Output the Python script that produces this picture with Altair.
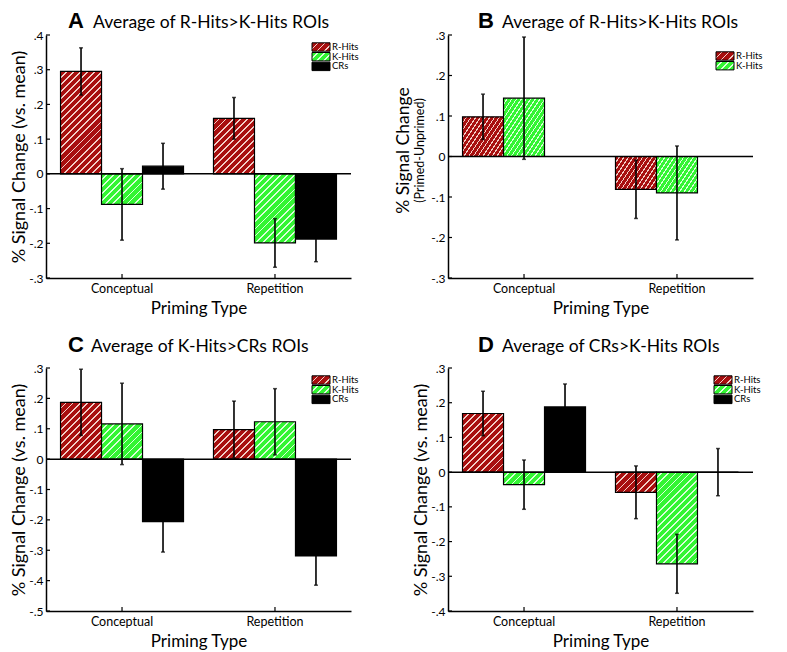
import math
import altair as alt

# ---------------- data ----------------
categories = ["Conceptual", "Repetition"]
series3 = ["R-Hits", "K-Hits", "CRs"]
series2 = ["R-Hits", "K-Hits"]

# Panel A: Average of R-Hits>K-Hits ROIs (vs. mean)
a_rhits = [0.295, 0.160]
a_rhits_err = [0.068, 0.060]
a_khits = [-0.088, -0.199]
a_khits_err = [0.103, 0.070]
a_crs = [0.022, -0.188]
a_crs_err = [0.066, 0.065]

# Panel B: Average of R-Hits>K-Hits ROIs (primed - unprimed)
b_rhits = [0.098, -0.081]
b_rhits_err = [0.056, 0.072]
b_khits = [0.144, -0.090]
b_khits_err = [0.151, 0.116]

# Panel C: Average of K-Hits>CRs ROIs
c_rhits = [0.187, 0.097]
c_rhits_err = [0.109, 0.094]
c_khits = [0.116, 0.123]
c_khits_err = [0.134, 0.109]
c_crs = [-0.206, -0.319]
c_crs_err = [0.100, 0.096]

# Panel D: Average of CRs>K-Hits ROIs
d_rhits = [0.169, -0.058]
d_rhits_err = [0.064, 0.076]
d_khits = [-0.036, -0.264]
d_khits_err = [0.071, 0.085]
d_crs = [0.188, 0.000]
d_crs_err = [0.066, 0.068]

ticks_a = [-0.3, -0.2, -0.1, 0.0, 0.1, 0.2, 0.3, 0.4]
ticks_b = [-0.3, -0.2, -0.1, 0.0, 0.1, 0.2, 0.3]
ticks_c = [-0.5, -0.4, -0.3, -0.2, -0.1, 0.0, 0.1, 0.2, 0.3]
ticks_d = [-0.4, -0.3, -0.2, -0.1, 0.0, 0.1, 0.2, 0.3]

# ---------------- style ----------------
W, H = 305, 243
PI, PO = 0.196, 0.095
FONT = "Lato"
RED, RED_STRIPE = "#a80f0f", "#f3cfc8"
GREEN, GREEN_STRIPE = "#33f533", "#dcffdc"
BLACK = "#000000"
BASE = {"R-Hits": (RED, RED_STRIPE), "K-Hits": (GREEN, GREEN_STRIPE), "CRs": (BLACK, None)}

STEP = W / (2 - PI + 2 * PO)
BAND = STEP * (1 - PI)


def hatch(name, w, h, period=5.0, white=1.3, m=32):
    base, stripe = BASE[name]
    if stripe is None:
        return base
    w = max(w, 1.0)
    h = max(h, 1.0)
    L = m * period
    k = math.sqrt(2) * L / (w * w + h * h)
    stops = []
    for i in range(m):
        a = i / m
        b = (i + (period - white) / period) / m
        c = (i + 1) / m
        stops += [
            {"offset": a, "color": base},
            {"offset": b, "color": base},
            {"offset": b, "color": stripe},
            {"offset": c, "color": stripe},
        ]
    return {"gradient": "linear", "x1": 0, "y1": 0, "x2": k * w, "y2": k * h, "stops": stops}


def label_expr():
    return ("datum.value == 0 ? '0' : replace(replace(format(datum.value, '.1f'), '0.', '.'), '\u2212', '-')")


def panel(letter, title, ser, vals, errs, dom, ticks, title_y, leg_x, leg_y, ytitle):
    span = dom[1] - dom[0]
    bw = BAND / len(ser)
    rows = []
    for s in ser:
        for j, c in enumerate(categories):
            m = vals[s][j]
            e = errs[s][j]
            rows.append({
                "cat": c, "series": s, "mean": m, "zero": 0,
                "lo": m - e, "hi": m + e,
                "fillg": hatch(s, bw, abs(m) * H / span),
            })
    xs = alt.Scale(domain=categories, paddingInner=PI, paddingOuter=PO)
    xaxis = alt.Axis(title="Priming Type", labelAngle=0, ticks=False, tickSize=0,
                     labelPadding=4, labelFontSize=12.5, labelFont=FONT, titleFont=FONT,
                     titleFontSize=17, titleFontWeight="normal", titlePadding=6,
                     domainColor="black", domainWidth=1.5, labelColor="black", grid=False)
    ys = alt.Scale(domain=dom, nice=False, zero=False)
    yaxis = alt.Axis(values=ticks, labelExpr=label_expr(), ticks=False, tickSize=0,
                     labelPadding=3, labelFontSize=12, labelFont=FONT, grid=False,
                     title=ytitle if isinstance(ytitle, str) else None,
                     titleFont=FONT, titleFontSize=18, titleFontWeight="normal",
                     titlePadding=0, domainColor="black", domainWidth=1.5, labelColor="black")
    X = alt.X("cat:N", sort=categories, scale=xs, axis=xaxis)
    XO = alt.XOffset("series:N", sort=ser, scale=alt.Scale(domain=ser, paddingInner=0, paddingOuter=0))
    base = alt.Chart(alt.Data(values=rows))
    bars = base.mark_bar(stroke="black", strokeWidth=1.2).encode(
        x=X, xOffset=XO,
        y=alt.Y("mean:Q", scale=ys, axis=yaxis, stack=None),
        y2="zero:Q",
        fill=alt.Fill("fillg:N", scale=None),
    )
    err = base.mark_rule(color="black", strokeWidth=1.6).encode(
        x=X, xOffset=XO, y=alt.Y("lo:Q", scale=ys, axis=yaxis), y2="hi:Q")
    cap_lo = base.mark_tick(color="black", size=4, thickness=1.5, orient="horizontal").encode(
        x=X, xOffset=XO, y=alt.Y("lo:Q", scale=ys, axis=yaxis))
    cap_hi = base.mark_tick(color="black", size=4, thickness=1.5, orient="horizontal").encode(
        x=X, xOffset=XO, y=alt.Y("hi:Q", scale=ys, axis=yaxis))
    zero = alt.Chart(alt.Data(values=[{"z": 0}])).mark_rule(color="black", strokeWidth=1.5).encode(
        y=alt.Y("z:Q", scale=ys, axis=yaxis))
    yt = alt.Chart(alt.Data(values=[{"v": t} for t in ticks])).mark_rule(color="black", strokeWidth=1.2).encode(
        y=alt.Y("v:Q", scale=ys, axis=yaxis), x=alt.value(0), x2=alt.value(4))
    xt = alt.Chart(alt.Data(values=[{"cat": c} for c in categories])).mark_rule(color="black", strokeWidth=1.2).encode(
        x=X, y=alt.value(H), y2=alt.value(H - 4))
    t1 = alt.Chart(alt.Data(values=[{"t": letter}])).mark_text(
        align="left", baseline="alphabetic", font="Liberation Sans", fontWeight="bold",
        fontSize=22, color="black").encode(text="t:N", x=alt.value(title[0]), y=alt.value(title_y))
    t2 = alt.Chart(alt.Data(values=[{"t": title[2]}])).mark_text(
        align="left", baseline="alphabetic", font=FONT, fontSize=17.5, color="black").encode(
        text="t:N", x=alt.value(title[1]), y=alt.value(title_y))
    layers = [bars, err, cap_lo, cap_hi, zero, yt, xt, t1, t2]
    for i, s in enumerate(ser):
        cy = leg_y + i * 9.7
        sw = alt.Chart(alt.Data(values=[{"s": s}])).mark_rect(stroke="black", strokeWidth=1).encode(
            x=alt.value(leg_x), x2=alt.value(leg_x + 18),
            y=alt.value(cy - 4.2), y2=alt.value(cy + 4.2),
            fill=alt.value(hatch(s, 18, 8.4)))
        tx = alt.Chart(alt.Data(values=[{"s": s}])).mark_text(
            align="left", baseline="middle", font=FONT, fontSize=9.5, color="black").encode(
            text="s:N", x=alt.value(leg_x + 20), y=alt.value(cy))
        layers += [sw, tx]
    if isinstance(ytitle, list):
        for (txt, fs, dx) in ytitle:
            layers.append(alt.Chart(alt.Data(values=[{"t": txt}])).mark_text(
                align="center", baseline="middle", angle=270, font=FONT, fontSize=fs,
                color="black").encode(text="t:N", x=alt.value(dx), y=alt.value(H / 2 - 6)))
    return alt.layer(*layers).properties(width=W, height=H)


pA = panel("A", (22, 47, "Average of R-Hits>K-Hits ROIs"), series3,
           {"R-Hits": a_rhits, "K-Hits": a_khits, "CRs": a_crs},
           {"R-Hits": a_rhits_err, "K-Hits": a_khits_err, "CRs": a_crs_err},
           [-0.3, 0.4], ticks_a, -7, 266, 12, "% Signal Change (vs. mean)")
pB = panel("B", (30, 54, "Average of R-Hits>K-Hits ROIs"), series2,
           {"R-Hits": b_rhits, "K-Hits": b_khits},
           {"R-Hits": b_rhits_err, "K-Hits": b_khits_err},
           [-0.3, 0.3], ticks_b, -7, 268, 21,
           [("% Signal Change", 17.5, -44), ("(Primed-Unprimed)", 12.5, -28)])
pC = panel("C", (22, 45, "Average of K-Hits>CRs ROIs"), series3,
           {"R-Hits": c_rhits, "K-Hits": c_khits, "CRs": c_crs},
           {"R-Hits": c_rhits_err, "K-Hits": c_khits_err, "CRs": c_crs_err},
           [-0.5, 0.3], ticks_c, -16, 266, 12, "% Signal Change (vs. mean)")
pD = panel("D", (30, 54, "Average of CRs>K-Hits ROIs"), series3,
           {"R-Hits": d_rhits, "K-Hits": d_khits, "CRs": d_crs},
           {"R-Hits": d_rhits_err, "K-Hits": d_khits_err, "CRs": d_crs_err},
           [-0.4, 0.3], ticks_d, -16, 266, 12, "% Signal Change (vs. mean)")

chart = alt.concat(pA, pB, pC, pD, columns=2, spacing={"row": 17, "column": 36}).properties(
    padding={"left": 2, "top": 2, "right": 2, "bottom": 0}, background="white"
).configure_view(stroke=None)

chart.save("out.html", embed_options={"renderer": "svg", "actions": False})
